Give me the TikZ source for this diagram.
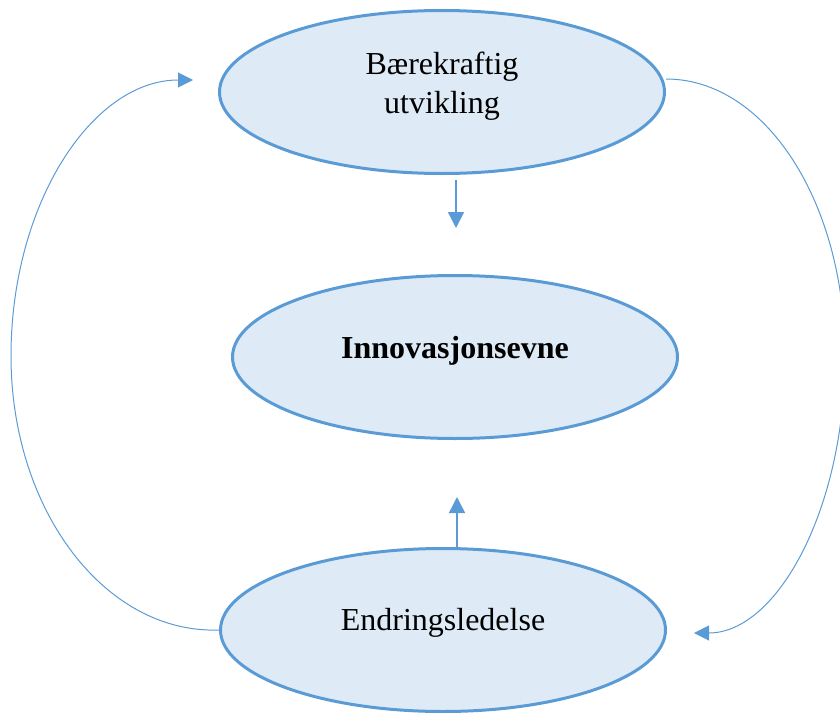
\documentclass[tikz,border=0pt]{standalone}
\usepackage{fontspec}
\setmainfont{Liberation Serif}
\usetikzlibrary{shapes.geometric,arrows.meta}

\definecolor{ovalfill}{HTML}{DEEBF7}
\definecolor{ovalline}{HTML}{5B9BD5}

\tikzset{
  oval/.style={ellipse, draw=ovalline, fill=ovalfill, line width=3pt,
    minimum width=445pt, minimum height=163pt, inner sep=0pt,
    font=\fontsize{32}{39}\selectfont, align=center},
  straightarrow/.style={draw=ovalline, line width=1.5pt,
    -{Triangle[width=16pt,length=16pt]}},
  looparrow/.style={draw=ovalline, line width=1pt,
    -{Triangle[width=15pt,length=15pt]}}
}

\begin{document}
\begin{tikzpicture}[x=1pt, y=-1pt]
  % page frame; the loops run past its right edge
  \path[use as bounding box, clip] (0,0) rectangle (840,712);

  \node[oval, text depth=19pt] (sustain) at (442,92) {Bærekraftig\\utvikling};
  \node[oval, font=\fontsize{32}{39}\selectfont\bfseries,
        text height=22pt, text depth=20pt] (innov) at (455,357) {Innovasjonsevne};
  \node[oval, text height=22pt, text depth=22pt] (change) at (443,630) {Endringsledelse};

  % short arrows towards the central oval
  \coordinate (downtip) at (456,228);
  \coordinate (uptip) at (457,497);
  \draw[straightarrow, shorten <=5pt] (sustain.south -| downtip) -- (downtip);
  \draw[straightarrow] (change.north -| uptip) -- (uptip);

  % feedback loops between the outer ovals
  \coordinate (lefttip) at (193,80);
  \coordinate (righttip) at (694,633);
  \draw[looparrow] (change.west)
    .. controls (105,634) and (11,510) .. (11,356)
    .. controls (11,204) and (92,80) .. (lefttip);
  \draw[looparrow] ([yshift=13pt]sustain.east)
    .. controls (766,79) and (845,203) .. (845,356)
    .. controls (845,509) and (777,633) .. (righttip);
\end{tikzpicture}
\end{document}
